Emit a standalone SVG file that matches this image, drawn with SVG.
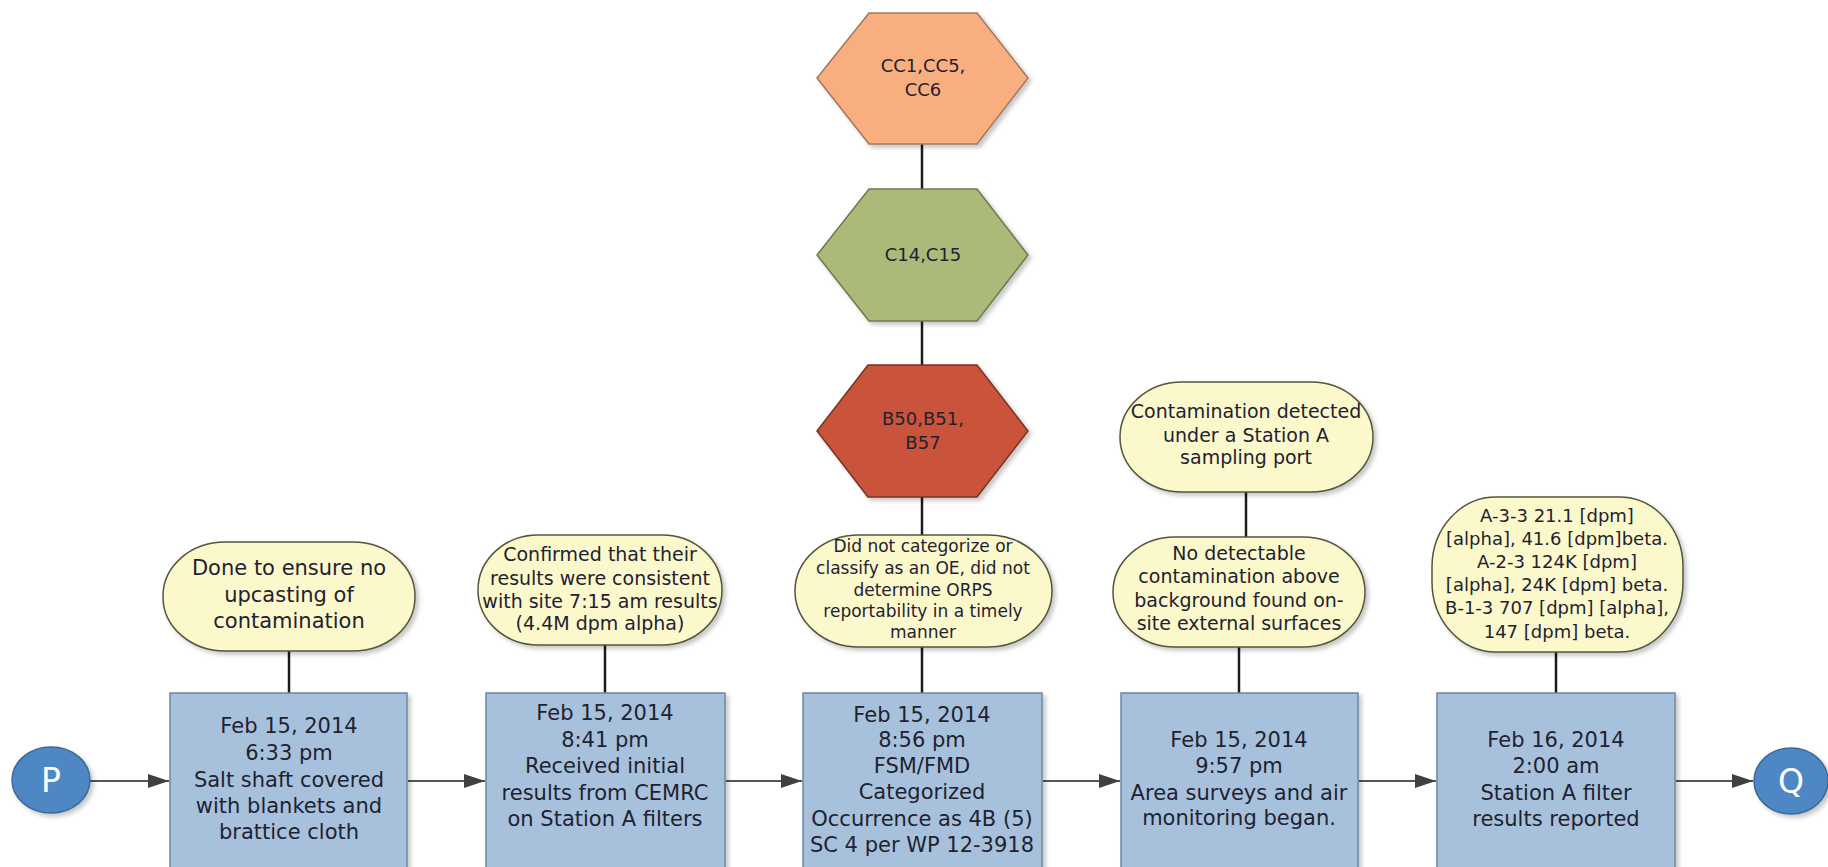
<svg xmlns="http://www.w3.org/2000/svg" width="1828" height="867" viewBox="0 0 1828 867">
  <defs>
    <filter id="sh" x="-10%" y="-10%" width="130%" height="130%">
      <feDropShadow dx="3" dy="3" stdDeviation="2" flood-color="#000" flood-opacity="0.22"/>
    </filter>
    <marker id="arr" markerUnits="userSpaceOnUse" markerWidth="22" markerHeight="16" refX="21" refY="8" orient="auto">
      <path d="M0,1 L21,8 L0,15 Z" fill="#404040"/>
    </marker>
    <style>
      text { font-family: "DejaVu Sans", "Liberation Sans", sans-serif; text-anchor: middle; fill: #1f2230; }
      .box { fill: #a7c1dc; stroke: #6a86a5; stroke-width: 1.5; filter: url(#sh); }
      .note { fill: #fbf8cc; stroke: #55553c; stroke-width: 1.5; filter: url(#sh); }
      .circ { fill: #4f87c4; stroke: #3a6a9a; stroke-width: 1.5; filter: url(#sh); }
      .hex { stroke-width: 1.5; filter: url(#sh); }
      .bt { font-size: 21px; }
      .nt { font-size: 19px; }
      .ns { font-size: 17px; }
      .n5 { font-size: 18px; }
      .ht { font-size: 18px; }
      .ct { font-size: 33px; fill: #ffffff; }
      .flow { stroke: #555555; stroke-width: 2; fill: none; marker-end: url(#arr); }
      .link { stroke: #1a1a1a; stroke-width: 2.5; fill: none; }
    </style>
  </defs>

  <g id="connectors">
    <line class="link" x1="922" y1="144" x2="922" y2="189"/>
    <line class="link" x1="922" y1="321" x2="922" y2="365"/>
    <line class="link" x1="922" y1="497" x2="922" y2="535"/>
    <line class="link" x1="922" y1="647" x2="922" y2="693"/>
    <line class="link" x1="289" y1="651" x2="289" y2="693"/>
    <line class="link" x1="605" y1="645" x2="605" y2="693"/>
    <line class="link" x1="1246" y1="492" x2="1246" y2="537"/>
    <line class="link" x1="1239" y1="647" x2="1239" y2="693"/>
    <line class="link" x1="1556" y1="652" x2="1556" y2="693"/>
    <line class="flow" x1="90" y1="781" x2="169" y2="781"/>
    <line class="flow" x1="408" y1="781" x2="485" y2="781"/>
    <line class="flow" x1="726" y1="781" x2="802" y2="781"/>
    <line class="flow" x1="1043" y1="781" x2="1120" y2="781"/>
    <line class="flow" x1="1359" y1="781" x2="1436" y2="781"/>
    <line class="flow" x1="1676" y1="781" x2="1753" y2="781"/>
  </g>

  <g id="hex-cc">
    <polygon class="hex" points="817,78 869,13 977,13 1028,78 977,144 869,144" fill="#f8ae7f" stroke="#a07860"/>
    <text class="ht" x="923" y="72" fill="#3a2a1a">CC1,CC5,</text>
    <text class="ht" x="923" y="96" fill="#3a2a1a">CC6</text>
  </g>
  <g id="hex-c">
    <polygon class="hex" points="817,255 869,189 977,189 1028,255 977,321 869,321" fill="#a9ba79" stroke="#6d7a4e"/>
    <text class="ht" x="923" y="261" fill="#26331a">C14,C15</text>
  </g>
  <g id="hex-b">
    <polygon class="hex" points="817,431 868,365 977,365 1028,431 977,497 868,497" fill="#c9533a" stroke="#7b3322"/>
    <text class="ht" x="923" y="425" fill="#3a140c">B50,B51,</text>
    <text class="ht" x="923" y="449" fill="#3a140c">B57</text>
  </g>

  <g id="node-p">
    <ellipse class="circ" cx="51" cy="780" rx="39" ry="33"/>
    <text class="ct" x="51" y="792">P</text>
  </g>
  <g id="node-q">
    <ellipse class="circ" cx="1791" cy="781" rx="37" ry="33"/>
    <text class="ct" x="1791" y="793">Q</text>
  </g>

  <g id="box1">
    <rect class="box" x="170" y="693" width="237" height="190"/>
    <text class="bt" x="289" y="733">Feb 15, 2014</text>
    <text class="bt" x="289" y="760">6:33 pm</text>
    <text class="bt" x="289" y="787">Salt shaft covered</text>
    <text class="bt" x="289" y="813">with blankets and</text>
    <text class="bt" x="289" y="839">brattice cloth</text>
  </g>
  <g id="box2">
    <rect class="box" x="486" y="693" width="239" height="190"/>
    <text class="bt" x="605" y="720">Feb 15, 2014</text>
    <text class="bt" x="605" y="747">8:41 pm</text>
    <text class="bt" x="605" y="773">Received initial</text>
    <text class="bt" x="605" y="800">results from CEMRC</text>
    <text class="bt" x="605" y="826">on Station A filters</text>
  </g>
  <g id="box3">
    <rect class="box" x="803" y="693" width="239" height="190"/>
    <text class="bt" x="922" y="722">Feb 15, 2014</text>
    <text class="bt" x="922" y="747">8:56 pm</text>
    <text class="bt" x="922" y="773">FSM/FMD</text>
    <text class="bt" x="922" y="799">Categorized</text>
    <text class="bt" x="922" y="826">Occurrence as 4B (5)</text>
    <text class="bt" x="922" y="852">SC 4 per WP 12-3918</text>
  </g>
  <g id="box4">
    <rect class="box" x="1121" y="693" width="237" height="190"/>
    <text class="bt" x="1239" y="747">Feb 15, 2014</text>
    <text class="bt" x="1239" y="773">9:57 pm</text>
    <text class="bt" x="1239" y="800">Area surveys and air</text>
    <text class="bt" x="1239" y="825">monitoring began.</text>
  </g>
  <g id="box5">
    <rect class="box" x="1437" y="693" width="238" height="190"/>
    <text class="bt" x="1556" y="747">Feb 16, 2014</text>
    <text class="bt" x="1556" y="773">2:00 am</text>
    <text class="bt" x="1556" y="800">Station A filter</text>
    <text class="bt" x="1556" y="826">results reported</text>
  </g>

  <g id="note1">
    <rect class="note" x="163" y="542" width="252" height="109" rx="62" ry="54"/>
    <text class="bt" x="289" y="575">Done to ensure no</text>
    <text class="bt" x="289" y="602">upcasting of</text>
    <text class="bt" x="289" y="628">contamination</text>
  </g>
  <g id="note2">
    <rect class="note" x="478" y="535" width="244" height="110" rx="60" ry="55"/>
    <text class="nt" x="600" y="561">Confirmed that their</text>
    <text class="nt" x="600" y="585">results were consistent</text>
    <text class="nt" x="600" y="608">with site 7:15 am results</text>
    <text class="nt" x="600" y="630">(4.4M dpm alpha)</text>
  </g>
  <g id="note3">
    <rect class="note" x="795" y="535" width="257" height="112" rx="64" ry="56"/>
    <text class="ns" x="923" y="552">Did not categorize or</text>
    <text class="ns" x="923" y="574">classify as an OE, did not</text>
    <text class="ns" x="923" y="596">determine ORPS</text>
    <text class="ns" x="923" y="617">reportability in a timely</text>
    <text class="ns" x="923" y="638">manner</text>
  </g>
  <g id="note4a">
    <rect class="note" x="1120" y="382" width="253" height="110" rx="62" ry="55"/>
    <text class="nt" x="1246" y="418">Contamination detected</text>
    <text class="nt" x="1246" y="442">under a Station A</text>
    <text class="nt" x="1246" y="464">sampling port</text>
  </g>
  <g id="note4b">
    <rect class="note" x="1113" y="537" width="252" height="110" rx="62" ry="55"/>
    <text class="nt" x="1239" y="560">No detectable</text>
    <text class="nt" x="1239" y="583">contamination above</text>
    <text class="nt" x="1239" y="607">background found on-</text>
    <text class="nt" x="1239" y="630">site external surfaces</text>
  </g>
  <g id="note5">
    <rect class="note" x="1432" y="497" width="251" height="155" rx="64" ry="70"/>
    <text class="n5" x="1557" y="522">A-3-3 21.1 [dpm]</text>
    <text class="n5" x="1557" y="545">[alpha], 41.6 [dpm]beta.</text>
    <text class="n5" x="1557" y="568">A-2-3 124K [dpm]</text>
    <text class="n5" x="1557" y="591">[alpha], 24K [dpm] beta.</text>
    <text class="n5" x="1557" y="614">B-1-3 707 [dpm] [alpha],</text>
    <text class="n5" x="1557" y="638">147 [dpm] beta.</text>
  </g>
</svg>
